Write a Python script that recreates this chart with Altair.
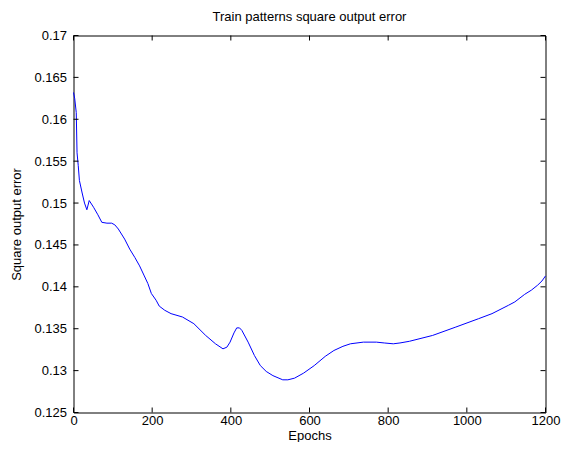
import altair as alt
import pandas as pd

epochs = [0, 3, 7, 9, 12, 15, 22, 28, 34, 40, 51, 62, 72, 85, 97, 105, 114, 130,
          143, 156, 168, 180, 189, 198, 210, 218, 232, 248, 277, 306, 336, 361,
          380, 390, 398, 408, 415, 422, 428, 444, 460, 475, 490, 507, 532, 545,
          562, 585, 612, 640, 662, 685, 704, 737, 770, 790, 813, 830, 854, 913,
          972, 1030, 1064, 1106, 1122, 1147, 1164, 1180, 1191, 1200]
errors = [0.1632, 0.1625, 0.1608, 0.1560, 0.1545, 0.1527, 0.1512, 0.1500, 0.1492,
          0.1503, 0.1495, 0.1486, 0.1477, 0.1476, 0.1476, 0.1474, 0.1469, 0.1457,
          0.1445, 0.1435, 0.1425, 0.1413, 0.1404, 0.1392, 0.1384, 0.1377, 0.1372,
          0.1368, 0.1364, 0.1356, 0.1342, 0.1332, 0.1326, 0.1328, 0.1334, 0.1345,
          0.1351, 0.1351, 0.1348, 0.1334, 0.1318, 0.1306, 0.1299, 0.1294, 0.1289,
          0.1289, 0.1291, 0.1297, 0.1306, 0.1317, 0.1324, 0.1329, 0.1332, 0.1334,
          0.1334, 0.1333, 0.1332, 0.1333, 0.1335, 0.1342, 0.1352, 0.1362, 0.1368,
          0.1378, 0.1382, 0.1391, 0.1396, 0.1402, 0.1407, 0.1413]
x_ticks = [0, 200, 400, 600, 800, 1000, 1200]
y_ticks = [0.125, 0.13, 0.135, 0.14, 0.145, 0.15, 0.155, 0.16, 0.165, 0.17]

W, H = 472, 377
FONT = "Liberation Sans"
FS = 13

df = pd.DataFrame({"epoch": epochs, "err": errors})
xt = pd.DataFrame({"epoch": x_ticks})
yt = pd.DataFrame({"err": y_ticks})

xscale = alt.Scale(domain=[0, 1200], nice=False, zero=False)
yscale = alt.Scale(domain=[0.125, 0.17], nice=False, zero=False)

common = dict(ticks=False, domain=False, grid=False, labelFlush=False,
              labelOverlap=False, labelFont=FONT, labelFontSize=FS,
              labelColor="black", titleFont=FONT, titleFontSize=FS,
              titleColor="black", titleFontWeight="normal")
xaxis = alt.Axis(title="Epochs", values=x_ticks, format="d", labelPadding=2,
                 titleY=26.5, titleBaseline="alphabetic", **common)
yaxis = alt.Axis(title="Square output error", values=y_ticks, format="~g",
                 labelPadding=7, titleX=-57, titleY=H / 2, titleAngle=-90,
                 titleAlign="center", titleBaseline="middle", **common)

line = alt.Chart(df).mark_line(color="#0000FF", strokeWidth=1).encode(
    x=alt.X("epoch:Q", scale=xscale, axis=xaxis),
    y=alt.Y("err:Q", scale=yscale, axis=yaxis),
)

left_ticks = alt.Chart(yt).mark_rule(color="black").encode(
    y=alt.Y("err:Q", scale=yscale, axis=yaxis), x=alt.value(0), x2=alt.value(5))
right_ticks = alt.Chart(yt).mark_rule(color="black").encode(
    y=alt.Y("err:Q", scale=yscale, axis=yaxis), x=alt.value(W - 5), x2=alt.value(W))
bottom_ticks = alt.Chart(xt).mark_rule(color="black").encode(
    x=alt.X("epoch:Q", scale=xscale, axis=xaxis), y=alt.value(H - 5), y2=alt.value(H))
top_ticks = alt.Chart(xt).mark_rule(color="black").encode(
    x=alt.X("epoch:Q", scale=xscale, axis=xaxis), y=alt.value(0), y2=alt.value(5))

chart = alt.layer(line, left_ticks, right_ticks, bottom_ticks, top_ticks).properties(
    width=W, height=H,
    background="white",
    title=alt.TitleParams("Train patterns square output error", font=FONT, fontSize=FS,
                          fontWeight="normal", color="black", offset=6),
    padding={"left": 65.5, "top": 27.5, "right": 15, "bottom": 29.5},
    autosize=alt.AutoSizeParams(type="none"),
).configure_view(
    stroke="black", strokeWidth=1
)

chart.save("out.html", embed_options={"renderer": "svg", "actions": False})
